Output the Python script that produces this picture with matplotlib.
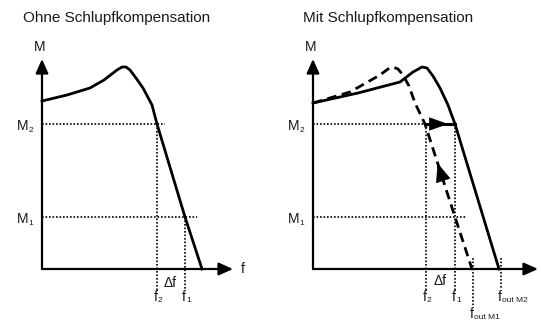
import matplotlib
matplotlib.use("Agg")
import matplotlib.pyplot as plt

plt.rcParams['font.family'] = ['Liberation Sans', 'DejaVu Sans']

# ---- data (arbitrary units: f horizontal, M vertical) ----
titles = ["Ohne Schlupfkompensation", "Mit Schlupfkompensation"]

# left panel: torque curve without slip compensation
ohne_f = [0, 25, 48, 62, 75, 80, 84, 88, 94, 101, 110, 115, 143, 160]
ohne_M = [168, 174, 181, 189, 199, 202, 202, 199, 191, 181, 164, 145, 52, 0]

# right panel: solid (shifted) curve and dashed (original) curve
mit_f = [0, 45, 87, 100, 109, 114, 120, 127, 135, 142, 186]
mit_M = [166, 176, 187, 197, 202, 201, 193, 181, 164, 145, 0]
dash_f = [0, 37, 67, 75, 80, 85, 90, 96, 102, 112, 142, 159]
dash_M = [166, 177, 194, 200, 202, 200, 194, 183, 166, 145, 52, 0]

M_levels = {"M2": 145, "M1": 52}
left_f = {"f2": 115, "f1": 143}
right_f = {"f2": 113, "f1": 142, "fout_M1": 160, "fout_M2": 188}

x_axis_end = [191, 225]
y_axis_end = 210

fig = plt.figure(figsize=(5.41, 3.22), dpi=100)
axL = fig.add_axes([0, 0, 270 / 541, 1])
axR = fig.add_axes([270 / 541, 0, 271 / 541, 1])
axL.set_xlim(-42, 228); axL.set_ylim(-53, 269)
axR.set_xlim(-43, 228); axR.set_ylim(-53, 269)

TXT = '#1a1a1a'
dot = dict(color='k', lw=1.2, linestyle=(0, (1.0, 1.1)))
curve_lw = 2.0


def axes_arrows(ax, xend):
    ap = dict(arrowstyle='-|>,head_length=0.85,head_width=0.38', lw=1.6,
              color='k', mutation_scale=10, shrinkA=0, shrinkB=0)
    ax.annotate('', xy=(xend, 0), xytext=(0, 0), arrowprops=ap)
    ax.annotate('', xy=(0, y_axis_end), xytext=(0, 0), arrowprops=ap)
    ax.text(-2, 222, 'M', fontsize=10, ha='center', va='center', color=TXT)


def m_label(ax, lvl, sub):
    ax.text(-14, lvl - 2, 'M', fontsize=10, ha='right', va='center', color=TXT)
    ax.text(-13.5, lvl - 8, sub, fontsize=6, ha='left', va='baseline', color=TXT)


def f_label(ax, x, y, sub):
    ax.text(x + 0.5, y, 'f', fontsize=10, ha='right', va='center', color=TXT)
    ax.text(x + 1.0, y - 5, sub, fontsize=6, ha='left', va='baseline', color=TXT)


for ax, t in zip((axL, axR), titles):
    ax.axis('off')
    ax.text(75, 251, t, fontsize=11, ha='center', va='center', color=TXT)

# ---------------- left panel ----------------
axes_arrows(axL, x_axis_end[0])
axL.text(201, 0, 'f', fontsize=10, ha='center', va='center', color=TXT)
axL.plot([0, 123], [M_levels["M2"]] * 2, **dot)
axL.plot([0, 155], [M_levels["M1"]] * 2, **dot)
axL.plot([left_f["f2"]] * 2, [M_levels["M2"], -21], **dot)
axL.plot([left_f["f1"]] * 2, [M_levels["M1"], -21], **dot)
axL.plot(ohne_f, ohne_M, color='k', lw=curve_lw, solid_joinstyle='round')
m_label(axL, M_levels["M2"], '2')
m_label(axL, M_levels["M1"], '1')
axL.text(128, -14, 'Δf', fontsize=10, ha='center', va='center', color=TXT)
f_label(axL, left_f["f2"], -28, '2')
f_label(axL, left_f["f1"], -28, '1')

# ---------------- right panel ----------------
axes_arrows(axR, x_axis_end[1])
axR.plot([0, right_f["f1"]], [M_levels["M2"]] * 2, **dot)
axR.plot([0, 154], [M_levels["M1"]] * 2, **dot)
axR.plot([right_f["f2"]] * 2, [M_levels["M2"], -21], **dot)
axR.plot([right_f["f1"]] * 2, [M_levels["M2"], -21], **dot)
axR.plot([right_f["fout_M1"]] * 2, [11, -38], **dot)
axR.plot([right_f["fout_M2"]] * 2, [11, -19], **dot)
axR.plot(mit_f, mit_M, color='k', lw=curve_lw, solid_joinstyle='round')
axR.plot(dash_f, dash_M, color='k', lw=curve_lw, linestyle=(0, (3.4, 2.0)))
# horizontal shift arrow at M2
axR.plot([right_f["f2"], right_f["f1"]], [M_levels["M2"]] * 2, color='k', lw=2.2)
axR.annotate('', xy=(135, M_levels["M2"]), xytext=(right_f["f2"], M_levels["M2"]),
             arrowprops=dict(arrowstyle='-|>,head_length=0.9,head_width=0.32', lw=0.5,
                             color='k', mutation_scale=14, shrinkA=0, shrinkB=0))
# arrow along dashed line
axR.annotate('', xy=(124.5, 106), xytext=(131, 86),
             arrowprops=dict(arrowstyle='-|>,head_length=0.9,head_width=0.36', lw=0.5,
                             color='k', mutation_scale=14, shrinkA=0, shrinkB=0))
m_label(axR, M_levels["M2"], '2')
m_label(axR, M_levels["M1"], '1')
axR.text(127, -12, 'Δf', fontsize=10, ha='center', va='center', color=TXT)
f_label(axR, right_f["f2"], -28, '2')
f_label(axR, right_f["f1"], -28, '1')
f_label(axR, right_f["fout_M2"], -28, 'out M2')
f_label(axR, right_f["fout_M1"], -45, 'out M1')

fig.savefig('out.png', dpi=100)
